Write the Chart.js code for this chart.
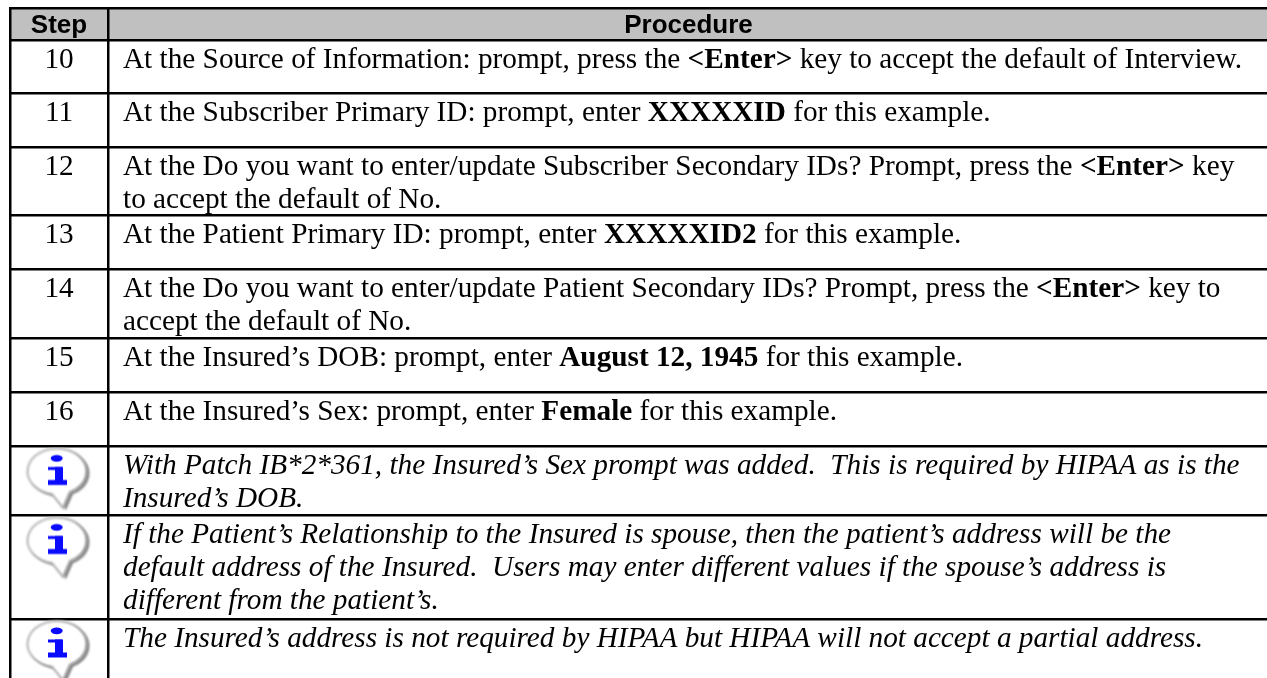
<!DOCTYPE html>
<html>
<head>
<meta charset="utf-8">
<title>Procedure steps</title>
<script src="https://cdn.jsdelivr.net/npm/chart.js@4/dist/chart.umd.min.js"></script>
<style>
  html, body { margin: 0; background: #fff; }
  canvas { display: block; }
</style>
</head>
<body>
<canvas id="table" width="1267" height="678"></canvas>
<script>
// ===== Table content =====
const headers = ['Step', 'Procedure'];
const stepLabels = ['10', '11', '12', '13', '14', '15', '16'];

// One entry per row, one string per text line. ** marks bold text.
const stepLines = [
  ['At the Source of Information: prompt, press the **<Enter>** key to accept the default of Interview.'],
  ['At the Subscriber Primary ID: prompt, enter **XXXXXID** for this example.'],
  ['At the Do you want to enter/update Subscriber Secondary IDs? Prompt, press the **<Enter>** key',
   'to accept the default of No.'],
  ['At the Patient Primary ID: prompt, enter **XXXXXID2** for this example.'],
  ['At the Do you want to enter/update Patient Secondary IDs? Prompt, press the **<Enter>** key to',
   'accept the default of No.'],
  ['At the Insured’s DOB: prompt, enter **August 12, 1945** for this example.'],
  ['At the Insured’s Sex: prompt, enter **Female** for this example.']
];
const noteLines = [
  ['With Patch IB*2*361, the Insured’s Sex prompt was added.  This is required by HIPAA as is the',
   'Insured’s DOB.'],
  ['If the Patient’s Relationship to the Insured is spouse, then the patient’s address will be the',
   'default address of the Insured.  Users may enter different values if the spouse’s address is',
   'different from the patient’s.'],
  ['The Insured’s address is not required by HIPAA but HIPAA will not accept a partial address.']
];

// Axis values of the ruled lines (the scales run in page pixels)
const columnLines = [10, 108];
const rowLines = [8, 40, 93.5, 147.5, 215.5, 269.5, 338, 392, 446.5, 515.5, 619];

// ===== Text settings =====
const BODY_FONT = '"Liberation Serif", "Times New Roman", serif';
const HEAD_FONT = '"Liberation Sans", Arial, sans-serif';
const BODY_SIZE = 29.25;
const LINE_HEIGHT = 33;
const FIRST_BASELINE = 27.5;
const TEXT_X = 123;

// Info bubble, used as the point style of the note rows
function makeInfoIcon() {
  const c = document.createElement('canvas');
  c.width = 70;
  c.height = 66;
  const g = c.getContext('2d');

  const bubble = (dx, dy) => {
    g.beginPath();
    g.ellipse(34 + dx, 25 + dy, 29.5, 23, 0, 0.556 * Math.PI, 0.356 * Math.PI, false);
    g.lineTo(40 + dx, 61.5 + dy);
    g.closePath();
  };

  g.filter = 'blur(1px)';
  g.fillStyle = '#808080';
  bubble(3, 2);
  g.fill();
  g.fillStyle = '#fff';
  g.strokeStyle = '#9a9a9a';
  g.lineWidth = 1.5;
  bubble(0, 0);
  g.fill();
  g.stroke();

  g.filter = 'blur(0.5px)';
  g.fillStyle = '#0a0aff';
  g.beginPath();
  g.ellipse(33.7, 11.8, 6, 3.4, 0, 0, Math.PI * 2);
  g.fill();
  g.fillRect(25, 20.5, 14, 3);
  g.fillRect(32, 20.5, 8, 15);
  g.fillRect(25, 33.5, 19, 5);
  return c;
}

// Draws the table text at positions taken from the chart's scales
const tableText = {
  id: 'tableText',
  beforeDraw(chart) {
    const { ctx, scales: { x, y } } = chart;
    ctx.save();
    ctx.fillStyle = '#c0c0c0';
    ctx.fillRect(x.getPixelForValue(columnLines[0]), y.getPixelForValue(rowLines[0]),
      x.right - x.getPixelForValue(columnLines[0]), y.getPixelForValue(rowLines[1]) - y.getPixelForValue(rowLines[0]));
    ctx.restore();
  },
  afterDraw(chart) {
    const { ctx, scales: { x, y } } = chart;
    const left = x.getPixelForValue(columnLines[0]);
    const split = x.getPixelForValue(columnLines[1]);
    ctx.save();
    ctx.filter = 'blur(0.35px)'; // the reference text is slightly soft
    ctx.fillStyle = '#000';
    ctx.textBaseline = 'alphabetic';

    // Header row
    ctx.textAlign = 'center';
    ctx.font = `bold 26px ${HEAD_FONT}`;
    ctx.fillText(headers[0], (left + split) / 2, y.getPixelForValue(32.5));
    ctx.fillText(headers[1], (split + x.right) / 2 + 1, y.getPixelForValue(32.5));

    // Step numbers
    ctx.font = `${BODY_SIZE}px ${BODY_FONT}`;
    stepLabels.forEach((label, i) => {
      ctx.fillText(label, (left + split) / 2, y.getPixelForValue(rowLines[i + 1] + FIRST_BASELINE));
    });

    // Procedure text, split into plain and bold runs
    ctx.textAlign = 'left';
    const drawLine = (line, base, py) => {
      let px = TEXT_X;
      line.split('**').forEach((run, k) => {
        ctx.font = `${k % 2 ? 'bold ' : ''}${base}${BODY_SIZE}px ${BODY_FONT}`;
        ctx.fillText(run, px, py);
        px += ctx.measureText(run).width;
      });
    };
    stepLines.forEach((lines, i) => {
      lines.forEach((line, j) => {
        drawLine(line, '', y.getPixelForValue(rowLines[i + 1] + FIRST_BASELINE + j * LINE_HEIGHT));
      });
    });
    noteLines.forEach((lines, i) => {
      lines.forEach((line, j) => {
        drawLine(line, 'italic ', y.getPixelForValue(rowLines[i + 8] + FIRST_BASELINE + j * LINE_HEIGHT));
      });
    });
    ctx.restore();
  }
};

const infoIcon = makeInfoIcon();

new Chart(document.getElementById('table'), {
  type: 'scatter',
  data: {
    datasets: [{
      label: 'Notes',
      data: noteLines.map((_, i) => ({ x: 58, y: rowLines[i + 8] + 33 })),
      pointStyle: infoIcon,
      showLine: false
    }]
  },
  options: {
    responsive: false,
    animation: false,
    events: [],
    layout: { autoPadding: false, padding: { left: 9, top: 7, right: 0, bottom: 0 } },
    plugins: { legend: { display: false }, tooltip: { enabled: false } },
    scales: {
      x: {
        type: 'linear',
        min: 9,
        max: 1267,
        afterBuildTicks: axis => { axis.ticks = columnLines.map(value => ({ value })); },
        ticks: { display: false },
        border: { display: false },
        grid: { color: '#000', lineWidth: 2.5, drawTicks: false }
      },
      y: {
        type: 'linear',
        reverse: true,
        min: 7,
        max: 678,
        afterBuildTicks: axis => { axis.ticks = rowLines.map(value => ({ value })); },
        ticks: { display: false },
        border: { display: false },
        grid: { color: '#000', lineWidth: 2.5, drawTicks: false }
      }
    }
  },
  plugins: [tableText]
});
</script>
</body>
</html>
